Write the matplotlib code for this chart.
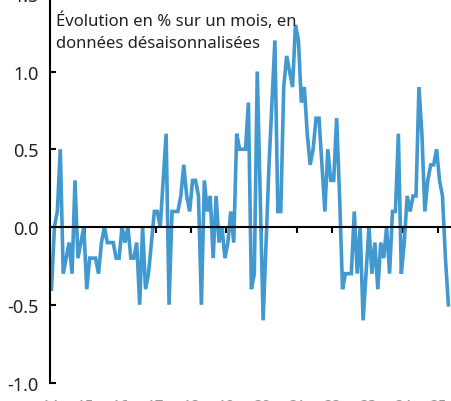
import matplotlib
matplotlib.use("Agg")
import matplotlib.pyplot as plt

plt.rcParams['font.family'] = ['Noto Sans', 'DejaVu Sans']

# Monthly change in %, seasonally adjusted
values = [
    -0.4, 0.0, 0.1, 0.5, -0.3, -0.2, -0.1, -0.3, 0.3, -0.2, -0.1, 0.0,
    -0.4, -0.2, -0.2, -0.2, -0.3, -0.1, 0.0, -0.1, -0.1, -0.1, -0.2, -0.2,
    0.0, -0.1, 0.0, -0.2, -0.2, -0.1, -0.5, 0.0, -0.4, -0.3, -0.1, 0.1,
    0.1, 0.0, 0.3, 0.6, -0.5, 0.1, 0.1, 0.1, 0.2, 0.4, 0.2, 0.1,
    0.3, 0.3, 0.2, -0.5, 0.3, 0.1, 0.2, -0.2, 0.2, -0.1, 0.0, -0.2,
    -0.1, 0.1, -0.1, 0.6, 0.5, 0.5, 0.5, 0.8, -0.4, -0.3, 1.0, 0.2,
    -0.6, -0.1, 0.4, 0.8, 1.2, 0.1, 0.1, 0.9, 1.1, 1.0, 0.9, 1.3,
    1.2, 0.8, 0.9, 0.6, 0.4, 0.5, 0.7, 0.7, 0.4, 0.1, 0.5, 0.3,
    0.3, 0.7, 0.2, -0.4, -0.3, -0.3, -0.3, 0.1, -0.3, 0.0, -0.6, -0.3,
    0.0, -0.3, -0.1, -0.4, -0.1, -0.2, 0.0, -0.3, 0.1, 0.1, 0.6, -0.3,
    -0.1, 0.2, 0.1, 0.2, 0.2, 0.9, 0.6, 0.1, 0.3, 0.4, 0.4, 0.5,
    0.3, 0.2, -0.2, -0.5,
]
year_labels = ["14", "15", "16", "17", "18", "19", "20", "21", "22", "23", "24", "25"]
y_ticks = [-1.0, -0.5, 0.0, 0.5, 1.0, 1.5]

months = list(range(len(values)))
year_ticks = [12 * k - 0.5 for k in range(len(year_labels))]

fig = plt.figure(figsize=(4.51, 4.02), dpi=100)
ax = fig.add_axes([50 / 451, 0.046, 401 / 451, 0.967])

ax.plot(months, values, color="#4199cf", linewidth=2.6, solid_joinstyle="miter")

ax.set_xlim(-0.5, 135.9)
ax.set_ylim(-1.0, 1.5)

ax.spines["top"].set_visible(False)
ax.spines["right"].set_visible(False)
ax.spines["bottom"].set_position(("data", 0))
ax.spines["left"].set_linewidth(1.5)
ax.spines["bottom"].set_linewidth(1.5)

ax.set_yticks(y_ticks)
ax.set_yticklabels([f"{v:.1f}" for v in y_ticks])
ax.tick_params(axis="y", direction="in", length=4.5, width=1.5, pad=8,
               labelsize=13, labelcolor="#222222")

ax.set_xticks(year_ticks)
ax.set_xticklabels(year_labels)
ax.tick_params(axis="x", direction="out", length=4, width=1.5, pad=119,
               labelsize=11, labelcolor="#999999")

fig.text(56 / 451, 1 - 13 / 402,
         "Évolution en % sur un mois, en\ndonnées désaisonnalisées",
         fontsize=12, color="#222222", va="top", ha="left", linespacing=1.45)

fig.savefig("out.png", dpi=100)
